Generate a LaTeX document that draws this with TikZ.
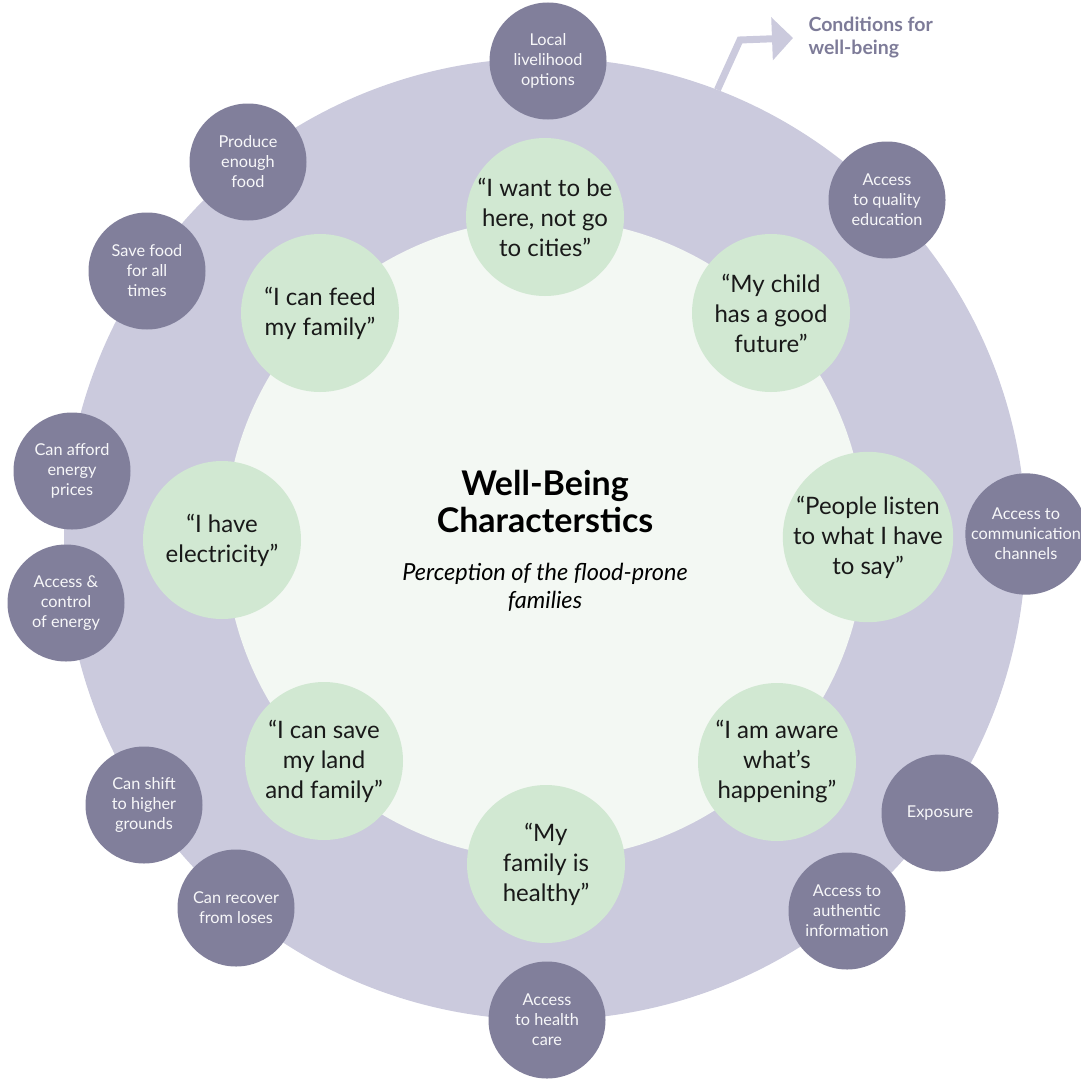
\documentclass[tikz,border=0pt]{standalone}
\usepackage{fontspec}
\setmainfont{Lato}
\usepackage{tikz}
\usetikzlibrary{arrows.meta}

\definecolor{ringcol}{HTML}{CBCADD}
\definecolor{darkcol}{HTML}{817F9B}
\definecolor{greencol}{HTML}{D1E8D2}
\definecolor{palecol}{HTML}{F3F8F3}
\definecolor{condtext}{HTML}{7D7B98}

\begin{document}
\begin{tikzpicture}[x=1pt, y=1pt,
  cond/.style={circle, fill=darkcol, minimum size=117pt, inner sep=0pt, align=center,
    text=white!94!darkcol, font=\fontsize{16.3}{20}\selectfont},
  feel/.style={circle, fill=greencol, minimum size=158pt, inner sep=0pt, align=center,
    text=black!90, font=\fontsize{24}{30}\selectfont}]
  \useasboundingbox (0,0) rectangle (1081,-1081);

  \node[circle, fill=ringcol, minimum size=962pt, inner sep=0pt] (ring) at (545,-539) {};
  \node[circle, fill=palecol, minimum size=640pt, inner sep=0pt] (core) at (545,-539) {};

  \node[anchor=west, align=left, text=condtext, font=\fontsize{19.5}{23}\selectfont\bfseries] (label) at (805,-38) {Conditions for\\well-being};
  \coordinate (bend) at (740,-40);
  \draw[ringcol, line width=7pt, -{Triangle[length=21pt, width=42pt]}] (ring.69.5) -- (bend) -- ([xshift=-12pt]label.west);

  \node[align=center, font=\fontsize{34}{37}\selectfont\bfseries] (title) at (545,-501) {Well-Being\\Characterstics};
  \node[align=center, font=\fontsize{23.5}{28}\selectfont\itshape] (sub) at (545,-587) {Perception of the flood-prone\\families};

  \node[feel] (stay) at (545,-217) {“I want to be\\here, not go\\to cities”};
  \node[feel] (child) at (771,-313) {“My child\\has a good\\future”};
  \node[feel] (listen) at (868,-537) {“People listen\\to what I have\\to say”};
  \node[feel] (aware) at (777,-762) {“I am aware\\what’s\\happening”};
  \node[feel] (health) at (546,-864) {“My\\family is\\healthy”};
  \node[feel] (save) at (324,-761) {“I can save\\my land\\and family”};
  \node[feel] (power) at (222,-540) {“I have\\electricity”};
  \node[feel] (feed) at (320,-313) {“I can feed\\my family”};

  \node[cond] (jobs) at (548,-61) {Local\\livelihood\\options};
  \node[cond] (grow) at (248,-162) {Produce\\enough\\food};
  \node[cond] (store) at (147,-271) {Save food\\for all\\times};
  \node[cond] (price) at (72,-471) {Can afford\\energy\\prices};
  \node[cond] (grid) at (66,-603) {Access \&\\control\\of energy};
  \node[cond] (shift) at (144,-805) {Can shift\\to higher\\grounds};
  \node[cond] (recover) at (236,-908) {Can recover\\from loses};
  \node[cond] (care) at (547,-1020) {Access\\to health\\care};
  \node[cond] (info) at (847,-911) {Access to\\authentic\\information};
  \node[cond] (expo) at (940,-813) {Exposure};
  \node[cond] (media) at (1026,-534) {Access to\\communication\\channels};
  \node[cond] (school) at (887,-200) {Access\\to quality\\education};
\end{tikzpicture}
\end{document}
